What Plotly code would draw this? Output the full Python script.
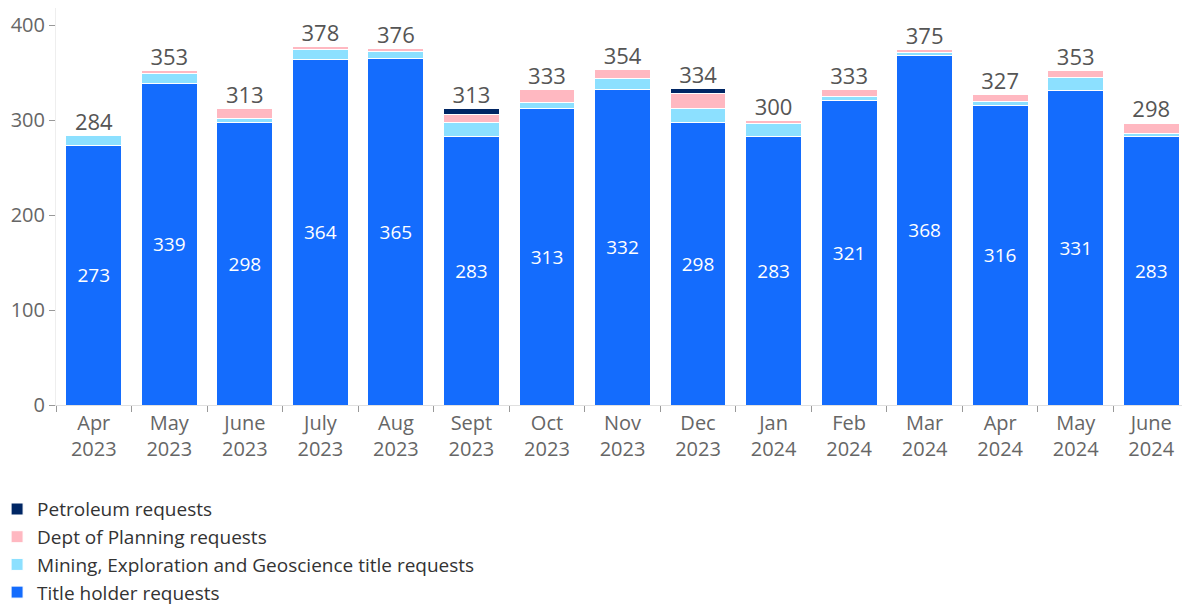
import plotly.graph_objects as go

# Monthly request counts
months = ["Apr<br>2023", "May<br>2023", "June<br>2023", "July<br>2023", "Aug<br>2023",
          "Sept<br>2023", "Oct<br>2023", "Nov<br>2023", "Dec<br>2023", "Jan<br>2024",
          "Feb<br>2024", "Mar<br>2024", "Apr<br>2024", "May<br>2024", "June<br>2024"]
title_holder = [273, 339, 298, 364, 365, 283, 313, 332, 298, 283, 321, 368, 316, 331, 283]
mining = [11, 10, 4, 11, 8, 15, 6, 12, 14, 14, 4, 4, 4, 14, 3]
planning = [0, 4, 11, 3, 3, 8, 13, 10, 16, 3, 8, 3, 7, 8, 11]
petroleum = [0, 0, 0, 0, 0, 7, 1, 0, 6, 0, 0, 0, 0, 0, 1]
totals = [284, 353, 313, 378, 376, 313, 333, 354, 334, 300, 333, 375, 327, 353, 298]

font = "Open Sans"
line = dict(color="white", width=1)

fig = go.Figure()
fig.add_trace(go.Bar(x=months, y=title_holder, name="Title holder requests",
                     marker=dict(color="#146CFD", line=line),
                     text=title_holder, textposition="inside", insidetextanchor="middle",
                     textfont=dict(color="white", size=19, family=font)))
fig.add_trace(go.Bar(x=months, y=mining, name="Mining, Exploration and Geoscience title requests",
                     marker=dict(color="#8CE0FF", line=line)))
fig.add_trace(go.Bar(x=months, y=planning, name="Dept of Planning requests",
                     marker=dict(color="#FFB8C1", line=line)))
fig.add_trace(go.Bar(x=months, y=petroleum, name="Petroleum requests",
                     marker=dict(color="#002664", line=line)))
# total labels above each stack
fig.add_trace(go.Scatter(x=months, y=totals, mode="text", text=totals,
                         textposition="top center", showlegend=False, hoverinfo="skip",
                         textfont=dict(size=22, color="#555555", family=font)))

# page body has an 8px margin, so the figure is 8px smaller each way
fig.update_layout(
    barmode="stack", bargap=0.26, width=1182, height=598,
    margin=dict(l=48, r=1, t=0, b=201, autoexpand=False),
    plot_bgcolor="white", paper_bgcolor="white",
    font=dict(family=font, size=20, color="#666666"),
    legend=dict(orientation="v", x=-0.052, xanchor="left", y=-0.2145, yanchor="top",
                traceorder="reversed", font=dict(size=19, color="#333333"),
                itemwidth=30, tracegroupgap=0),
)
fig.update_xaxes(automargin=False, range=[-0.5, 14.5], showline=True, linecolor="#e0e0e0",
                 ticks="outside", tickcolor="#999999", ticklen=6, tickson="boundaries",
                 tickfont=dict(size=20, color="#666666"))
fig.update_yaxes(automargin=False, range=[0, 418.4], showgrid=False, showline=True,
                 linecolor="#eeeeee", ticks="outside", tickcolor="#999999", ticklen=6,
                 dtick=100, tickfont=dict(size=20, color="#666666"), zeroline=False)

fig.write_html("out.html")
